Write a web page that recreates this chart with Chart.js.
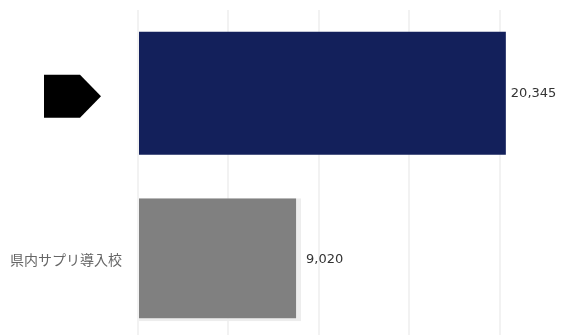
<html>
<head>
    <meta charset="UTF-8">
    <title>サプリ導入</title>
    <script src="https://cdn.jsdelivr.net/npm/chart.js"></script>
    <style>
        body { margin: 0; overflow: hidden; background: #fff; }
    </style>
</head>
<body>
<canvas id="chart" width="600" height="345"></canvas>

<script>
    // first category is shown as a black arrow marker instead of text
    const categories = ['', '県内サプリ導入校'];
    const values = [20345, 9020];
    const barColors = ['#13205b', '#808080'];
    const xTicks = [0, 5000, 10000, 15000, 20000, 25000];

    // draws the value next to each bar
    const valueLabels = {
        id: 'valueLabels',
        afterDatasetsDraw(chart) {
            const ctx = chart.ctx;
            const meta = chart.getDatasetMeta(0);
            ctx.save();
            ctx.font = '13px "DejaVu Sans"';
            ctx.fillStyle = '#333';
            ctx.textBaseline = 'middle';
            ctx.textAlign = 'left';
            meta.data.forEach((bar, i) => {
                ctx.fillText(values[i].toLocaleString('en-US'), bar.x + 5, bar.y);
            });
            ctx.restore();
        }
    };

    // arrow marker for the empty first category
    const arrowMarker = {
        id: 'arrowMarker',
        afterDraw(chart) {
            const yScale = chart.scales.y;
            const ctx = chart.ctx;
            const left = chart.chartArea.left;
            categories.forEach((c, i) => {
                if (c !== '') return;
                const y = yScale.getPixelForTick(i) + 3;
                ctx.save();
                ctx.fillStyle = '#000';
                ctx.beginPath();
                ctx.moveTo(left - 94, y - 21.5);
                ctx.lineTo(left - 58, y - 21.5);
                ctx.lineTo(left - 37, y);
                ctx.lineTo(left - 58, y + 21.5);
                ctx.lineTo(left - 94, y + 21.5);
                ctx.closePath();
                ctx.fill();
                ctx.restore();
            });
        }
    };

    new Chart(document.getElementById('chart'), {
        type: 'bar',
        data: {
            labels: categories,
            datasets: [{
                data: values,
                backgroundColor: barColors,
                borderColor: ['#13205b', '#ededed'],
                borderWidth: [0, {top: 0, right: 5, bottom: 3, left: 0}],
                borderSkipped: false,
                categoryPercentage: 1,
                barPercentage: 0.74
            }]
        },
        options: {
            indexAxis: 'y',
            responsive: false,
            animation: false,
            layout: {padding: {top: 10, bottom: 2, right: 10, left: 0}},
            plugins: {
                legend: {display: false},
                tooltip: {enabled: false}
            },
            scales: {
                x: {
                    min: 0,
                    max: xTicks[xTicks.length - 1],
                    afterBuildTicks: (scale) => {
                        scale.ticks = xTicks.map(v => ({value: v}));
                    },
                    afterFit: (scale) => {
                        scale.height = 0;
                        scale.paddingLeft = 0;
                        scale.paddingRight = 0;
                    },
                    ticks: {display: false},
                    border: {display: false},
                    grid: {
                        color: 'rgba(0,0,0,0.05)',
                        lineWidth: 2,
                        drawTicks: false
                    }
                },
                y: {
                    afterFit: (scale) => {
                        scale.width = 138;
                        scale.paddingTop = 0;
                        scale.paddingBottom = 0;
                    },
                    border: {display: false},
                    grid: {display: false, drawTicks: false},
                    ticks: {
                        padding: 16,
                        color: '#666',
                        font: {family: '"Noto Sans CJK JP"', size: 14}
                    }
                }
            }
        },
        plugins: [valueLabels, arrowMarker]
    });
</script>
</body>
</html>
